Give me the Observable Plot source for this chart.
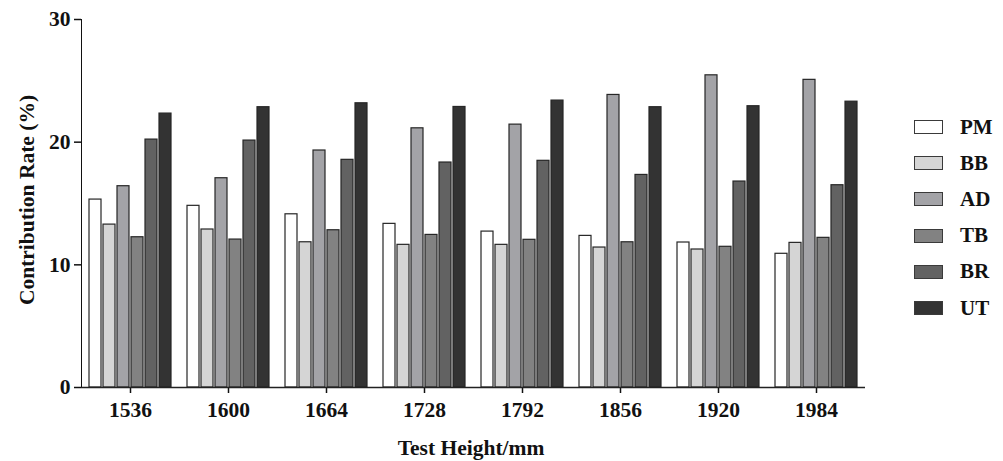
<!DOCTYPE html>
<html><head><meta charset="utf-8">
<script src="https://cdn.jsdelivr.net/npm/d3@7"></script>
<script src="https://cdn.jsdelivr.net/npm/@observablehq/plot@0.6"></script>
<style>
body{margin:0;background:#fff;}
#wrap{position:relative;width:1003px;height:461px;font-family:"Liberation Serif","Times New Roman",serif;font-weight:bold;color:#111;overflow:hidden;}
#wrap svg [aria-label$="tick"]{stroke-width:1.5;}
#wrap svg text{font-size:21.5px;}
.ytitle{position:absolute;left:27px;top:200px;transform:translate(-50%,-50%) rotate(-90deg);font-size:21.5px;white-space:nowrap;}
.xtitle{position:absolute;left:471px;top:448px;transform:translate(-50%,-50%);font-size:21.5px;white-space:nowrap;}
.legend{position:absolute;left:914px;top:109px;}
.row{display:flex;align-items:center;height:36.2px;}
.sw{width:27px;height:12px;border:1.5px solid #3a3a3a;margin-right:17px;}
.lab{font-size:21px;line-height:21px;}
</style></head><body><div id="wrap"></div>
<script>
const heights = ["1536","1600","1664","1728","1792","1856","1920","1984"];
const series = ["PM","BB","AD","TB","BR","UT"];
const colors = ["#ffffff","#d5d5d5","#a3a3a7","#828282","#626262","#333333"];
const PM = [15.32,14.81,14.12,13.34,12.71,12.36,11.82,10.90];
const BB = [13.28,12.88,11.84,11.63,11.63,11.41,11.25,11.79];
const AD = [16.41,17.06,19.32,21.13,21.43,23.85,25.45,25.08];
const TB = [12.25,12.06,12.82,12.44,12.04,11.84,11.47,12.20];
const BR = [20.21,20.13,18.56,18.34,18.48,17.33,16.79,16.49];
const UT = [22.33,22.85,23.17,22.87,23.39,22.85,22.93,23.30];
const yTicks = [0,10,20,30];

const bySeries = {PM,BB,AD,TB,BR,UT};
const data = [];
heights.forEach((h,i)=>series.forEach(s=>data.push({height:h,series:s,value:bySeries[s][i]})));

const wrap = document.getElementById("wrap");
const chart = Plot.plot({
  width:1003, height:461,
  marginLeft:79, marginRight:137, marginTop:19, marginBottom:74,
  fx:{domain:heights, padding:0, label:null, tickSize:6, tickPadding:8},
  x:{domain:series, paddingInner:0.17, paddingOuter:0.5, axis:null},
  y:{domain:[0,30], ticks:yTicks, tickSize:7, tickPadding:4, label:null, line:true},
  color:{domain:series, range:colors},
  style:{fontFamily:'"Liberation Serif","Times New Roman",serif', fontSize:"21.5px", fontWeight:"bold", color:"#111", background:"white", overflow:"visible"},
  marks:[
    Plot.barY(data,{fx:"height", x:"series", y:"value", fill:"series", stroke:"#262626", strokeWidth:1.2}),
    Plot.ruleY([0],{stroke:"#222", strokeWidth:1.5})
  ]
});
wrap.appendChild(chart);

const yt = document.createElement("div"); yt.className="ytitle"; yt.textContent="Contribution Rate (%)"; wrap.appendChild(yt);
const xt = document.createElement("div"); xt.className="xtitle"; xt.textContent="Test Height/mm"; wrap.appendChild(xt);
const lg = document.createElement("div"); lg.className="legend";
series.forEach((s,i)=>{
  const r=document.createElement("div"); r.className="row";
  const sw=document.createElement("div"); sw.className="sw"; sw.style.background=colors[i];
  const lb=document.createElement("div"); lb.className="lab"; lb.textContent=s;
  r.appendChild(sw); r.appendChild(lb); lg.appendChild(r);
});
wrap.appendChild(lg);
</script></body></html>
